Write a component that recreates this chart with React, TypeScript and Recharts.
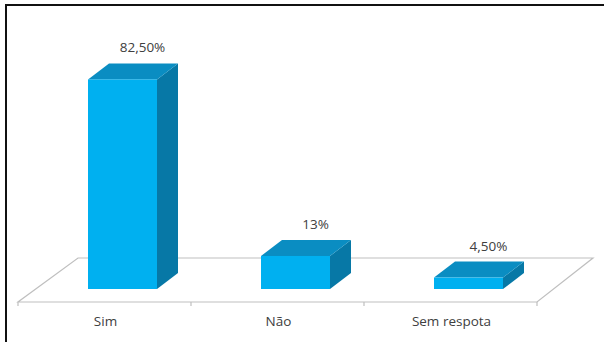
import { BarChart, Bar, XAxis, YAxis, LabelList, Customized } from 'recharts';

const categories = ['Sim', 'Não', 'Sem respota'];
const percentages = [82.5, 13, 4.5];
const valueLabels = ['82,50%', '13%', '4,50%'];

const data = categories.map((name, i) => ({ name, value: percentages[i] }));

// 3d look
const DEPTH_SHIFT = 18; // bar front plane sits a bit behind the floor front edge
const BOX_DX = 21;
const BOX_DY = -16;
const FRONT = '#00b0f0';
const TOP = '#0a8dc2';
const SIDE = '#0778a6';
const FONT = "'Open Sans', 'Liberation Sans', sans-serif";

function Box3D(props: any) {
  const { x, y, width, height } = props;
  const fx = x + DEPTH_SHIFT;
  const top = `${fx},${y} ${fx + width},${y} ${fx + width + BOX_DX},${y + BOX_DY} ${fx + BOX_DX},${y + BOX_DY}`;
  const side = `${fx + width},${y} ${fx + width + BOX_DX},${y + BOX_DY} ${fx + width + BOX_DX},${y + height + BOX_DY} ${fx + width},${y + height}`;
  return (
    <g>
      <polygon points={side} fill={SIDE} />
      <polygon points={top} fill={TOP} />
      <rect x={fx} y={y} width={width} height={height} fill={FRONT} />
    </g>
  );
}

function Floor() {
  // floor plane under the bars
  const left = 18;
  const right = 537;
  const front = 302;
  const back = 258;
  const ticks = [0, 1, 2, 3].map((i) => left + ((right - left) * i) / 3);
  return (
    <g>
      <polygon
        points={`${left},${front} ${right},${front} ${right + 56},${back} ${left + 60},${back}`}
        fill="#fff"
        stroke="#bfbfbf"
        strokeWidth={1.2}
      />
      {ticks.map((t) => (
        <line key={t} x1={t} y1={front} x2={t} y2={front + 4} stroke="#bfbfbf" strokeWidth={1.2} />
      ))}
    </g>
  );
}

function CategoryTick(props: any) {
  const { x, y, payload } = props;
  return (
    <text x={x + 1} y={y} dy={29} textAnchor="middle" fontFamily={FONT} fontSize={13.5} fill="#404040">
      {payload.value}
    </text>
  );
}

function ValueLabel(props: any) {
  const { x, y, width, index } = props;
  return (
    <text
      x={x + DEPTH_SHIFT + width / 2 + 20}
      y={y - 27}
      textAnchor="middle"
      fontFamily={FONT}
      fontSize={13.5}
      fill="#404040"
    >
      {valueLabels[index]}
    </text>
  );
}

export default function App() {
  return (
    <div style={{ position: 'absolute', left: 0, top: 0, width: 604, height: 342, background: '#fff', overflow: 'hidden' }}>
      <div
        style={{
          position: 'absolute',
          left: 5,
          top: 4,
          width: 610,
          height: 350,
          borderTop: '2px solid #111',
          borderLeft: '2px solid #111',
        }}
      />
      <div style={{ position: 'absolute', left: 0, top: 0 }}>
        <BarChart
          width={604}
          height={342}
          data={data}
          margin={{ top: 35, right: 67, bottom: 23, left: 18 }}
          barSize={69}
        >
          <Customized component={Floor} />
          <YAxis hide domain={[0, 100]} />
          <XAxis dataKey="name" height={30} axisLine={false} tickLine={false} tick={<CategoryTick />} interval={0} />
          <Bar dataKey="value" shape={<Box3D />} isAnimationActive={false}>
            <LabelList dataKey="value" content={<ValueLabel />} />
          </Bar>
        </BarChart>
      </div>
    </div>
  );
}
